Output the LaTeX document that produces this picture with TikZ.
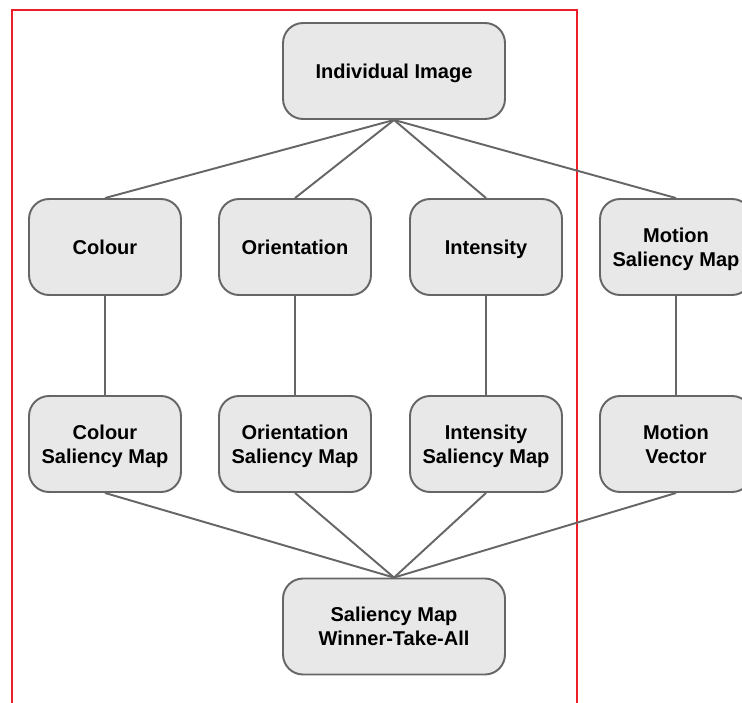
\documentclass[tikz,border=0pt]{standalone}
\usepackage{fontspec}
\setmainfont{Liberation Sans}
\definecolor{boxline}{RGB}{102,102,102}
\definecolor{boxfill}{RGB}{232,232,232}
\definecolor{framered}{RGB}{238,30,40}
\begin{document}
\begin{tikzpicture}[x=0.02cm,y=-0.02cm,
	box/.style={draw=boxline,fill=boxfill,line width=1.1pt,rounded corners=0.4cm,align=center,inner sep=0pt,
		minimum width=3.04cm,minimum height=1.92cm,text depth=0pt,font=\bfseries\fontsize{11.4}{13.7}\selectfont},
	widebox/.style={box,minimum width=4.44cm},
	link/.style={draw=boxline,line width=1.1pt}]
\useasboundingbox (0,0) rectangle (742,702);
\clip (0,0) rectangle (742,702);
\draw[draw=framered,line width=1.5pt] (12,10) rectangle (577,730);
\node[widebox] (0) at (394,71) {Individual Image};
\node[box] (1) at (105,247) {Colour};
\node[box] (2) at (295,247) {Orientation};
\node[box] (3) at (486,247) {Intensity};
\node[box] (4) at (676,247) {Motion\\Saliency Map};
\node[box] (5) at (105,444) {Colour\\Saliency Map};
\node[box] (6) at (295,444) {Orientation\\Saliency Map};
\node[box] (7) at (486,444) {Intensity\\Saliency Map};
\node[box] (8) at (676,444) {Motion\\Vector};
\node[widebox] (9) at (394,626.5) {Saliency Map\\Winner-Take-All};
\draw [link](0.south)--(1.north);
\draw [link](0.south)--(2.north);
\draw [link](0.south)--(3.north);
\draw [link](0.south)--(4.north);
\draw [link](1)--(5);
\draw [link](2)--(6);
\draw [link](3)--(7);
\draw [link](4)--(8);
\draw [link](5.south)--(9.north);
\draw [link](6.south)--(9.north);
\draw [link](7.south)--(9.north);
\draw [link](8.south)--(9.north);
\end{tikzpicture}
\end{document}
